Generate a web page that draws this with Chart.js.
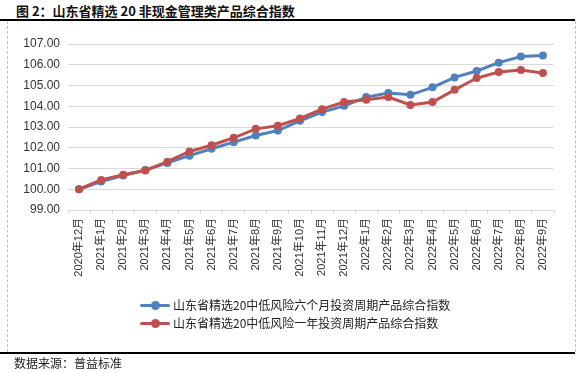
<!DOCTYPE html>
<html>
<head>
<meta charset="utf-8">
<script src="https://cdn.jsdelivr.net/npm/chart.js@4/dist/chart.umd.min.js"></script>
<style>
  html, body { margin:0; padding:0; background:#fff; }
  #wrap { position:relative; width:586px; height:373px; overflow:hidden; font-family:"Noto Sans CJK SC", sans-serif; }
  #c { position:absolute; left:0; top:0; }
  .title { position:absolute; left:16px; top:2px; font-size:13px; color:#111; font-weight:bold; white-space:nowrap; line-height:18px; }
  .src { position:absolute; left:14px; top:355px; font-size:12px; color:#222; white-space:nowrap; line-height:16px; }
  .hline { position:absolute; left:0; width:575px; height:2px; background:#000; }
  .vdash { position:absolute; width:0; border-left:1px dashed #c0c0c0; }
  .leg { position:absolute; left:140px; font-size:12px; color:#222; white-space:nowrap; line-height:14px; }
  .leg .ln { position:absolute; left:0; top:6px; width:30px; height:3px; border-radius:2px; }
  .leg .dt { position:absolute; left:11px; top:3px; width:9px; height:9px; border-radius:50%; }
  .leg .tx { position:absolute; left:33px; top:0; }
</style>
</head>
<body>
<div id="wrap">
  <div class="title">图 2：山东省精选 20 非现金管理类产品综合指数</div>
  <div class="hline" style="top:19px"></div>
  <div class="hline" style="top:352px"></div>
  <div class="vdash" style="left:7px; top:21px; height:331px"></div>
  <div class="vdash" style="left:575px; top:21px; height:331px"></div>
  <canvas id="c" width="586" height="373"></canvas>
  <div class="leg" style="top:298px"><div class="ln" style="background:#4f81bd"></div><div class="dt" style="background:#4f81bd"></div><div class="tx" id="l0"></div></div>
  <div class="leg" style="top:316px"><div class="ln" style="background:#c0504d"></div><div class="dt" style="background:#c0504d"></div><div class="tx" id="l1"></div></div>
  <div class="src">数据来源：普益标准</div>
</div>
<script>
const categories = ["2020年12月","2021年1月","2021年2月","2021年3月","2021年4月","2021年5月","2021年6月","2021年7月","2021年8月","2021年9月","2021年10月","2021年11月","2021年12月","2022年1月","2022年2月","2022年3月","2022年4月","2022年5月","2022年6月","2022年7月","2022年8月","2022年9月"];
const seriesNames = ["山东省精选20中低风险六个月投资周期产品综合指数","山东省精选20中低风险一年投资周期产品综合指数"];
const sixMonth = [100.00,100.37,100.66,100.93,101.27,101.62,101.95,102.27,102.59,102.83,103.30,103.72,104.02,104.44,104.64,104.55,104.91,105.39,105.70,106.10,106.40,106.44];
const oneYear  = [100.00,100.45,100.70,100.90,101.33,101.82,102.12,102.48,102.91,103.06,103.41,103.86,104.20,104.31,104.44,104.06,104.20,104.79,105.36,105.65,105.75,105.60];
const yMin = 99, yMax = 107, yStep = 1;

document.getElementById('l0').textContent = seriesNames[0];
document.getElementById('l1').textContent = seriesNames[1];

const fam = '"Liberation Sans", "Noto Sans CJK SC", sans-serif';
new Chart(document.getElementById('c'), {
  type: 'line',
  data: {
    labels: categories,
    datasets: [
      { label: seriesNames[0], data: sixMonth, borderColor:'#4f81bd', backgroundColor:'#4f81bd', borderWidth:3, pointRadius:4, pointHoverRadius:4, pointBorderWidth:0, order:1, tension:0 },
      { label: seriesNames[1], data: oneYear, borderColor:'#c0504d', backgroundColor:'#c0504d', borderWidth:3, pointRadius:4, pointHoverRadius:4, pointBorderWidth:0, order:0, tension:0 }
    ]
  },
  options: {
    responsive:false, animation:false,
    layout:{ padding:{ left:0, right:32, top:44, bottom:93 } },
    plugins:{ legend:{display:false}, tooltip:{enabled:false} },
    scales:{
      x:{
        offset:true,
        grid:{ offset:true, drawOnChartArea:false, drawTicks:true, tickLength:4, color:'#d9d9d9' },
        border:{ color:'#d9d9d9' },
        ticks:{ minRotation:90, maxRotation:90, autoSkip:false, padding:4, color:'#333', font:{ family:fam, size:11 } },
        afterFit(s){ s.height = 70; }
      },
      y:{
        min:yMin, max:yMax,
        grid:{ color:'#d9d9d9', drawTicks:false },
        border:{ display:false },
        ticks:{ stepSize:yStep, padding:8, color:'#333', font:{ family:fam, size:12 }, callback:v=>Number(v).toFixed(2) },
        afterFit(s){ s.width = 68; }
      }
    }
  }
});
</script>
</body>
</html>
